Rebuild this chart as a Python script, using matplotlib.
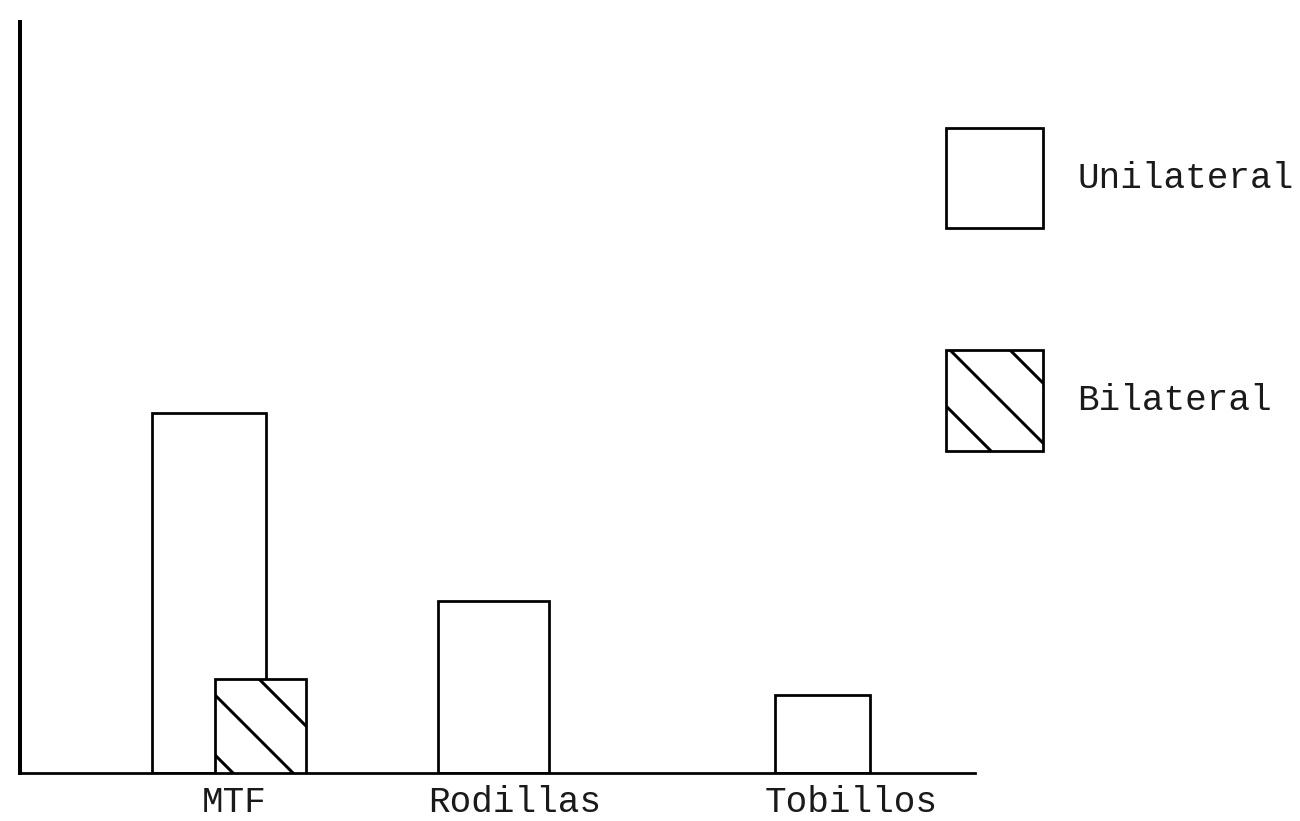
import matplotlib.pyplot as plt
import numpy as np

# ── data (counts per joint) ──────────────────────────────
categories = ["MTF", "Rodillas", "Tobillos"]
unilateral = [23, 11, 5]
bilateral = [6, 0, 0]

# ── layout (axis runs 0..955 horizontally) ───────────────
tick_pos = [214, 495, 831]
uni_left = [132, 418, 755]
uni_width = [114, 111, 95]
bil_left = [195, 0, 0]
bil_width = [91, 0, 0]

DPI = 180  # hatch tile follows dpi; this gives ~60 px line spacing
plt.rcParams["font.family"] = ["Liberation Mono", "DejaVu Sans Mono"]
plt.rcParams["hatch.linewidth"] = 1.2

fig = plt.figure(figsize=(1300 / DPI, 821 / DPI), dpi=DPI)
ax = fig.add_axes([20 / 1300, 48 / 821, 955 / 1300, 751 / 821])

ax.bar(uni_left, unilateral, width=uni_width, align="edge",
       facecolor="white", edgecolor="black", linewidth=1.1,
       label="Unilateral", zorder=2)

keep = [i for i, v in enumerate(bilateral) if v > 0]
ax.bar([bil_left[i] for i in keep], [bilateral[i] for i in keep],
       width=[bil_width[i] for i in keep], align="edge",
       facecolor="white", edgecolor="black", linewidth=1.1,
       hatch="\\", label="Bilateral", zorder=3)

ax.set_xlim(0, 955)
ax.set_ylim(0, 48)
ax.set_yticks([])
ax.set_xticks(tick_pos)
ax.set_xticklabels(categories, fontsize=14.4, color="#1a1a1a")
ax.tick_params(axis="x", length=0, pad=5.0)

for s in ["top", "right"]:
    ax.spines[s].set_visible(False)
ax.spines["left"].set_linewidth(1.6)
ax.spines["bottom"].set_linewidth(1.1)

ax.legend(loc="upper left", bbox_to_anchor=(946 / 1300, 1 - 128 / 821),
          bbox_transform=fig.transFigure, frameon=False, fontsize=14.4,
          handlelength=2.7, handleheight=3.9, handletextpad=0.95,
          labelspacing=3.4, borderpad=0, borderaxespad=0,
          labelcolor="#1a1a1a")

fig.savefig("out.png", dpi=DPI)
